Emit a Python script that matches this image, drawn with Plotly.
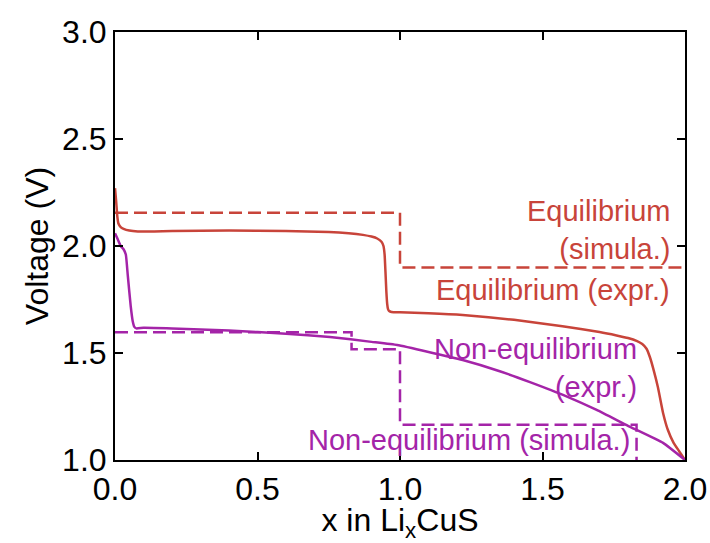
import plotly.graph_objects as go

RED = "#C8443A"
PURPLE = "#A424A8"

# Equilibrium (simulated) - step
eq_sim_x = [0.0, 1.0, 1.0, 2.0]
eq_sim_y = [2.155, 2.155, 1.90, 1.90]

# Equilibrium (experimental)
eq_exp_x = [0.0, 0.004, 0.008, 0.012, 0.02, 0.03, 0.05, 0.08, 0.2, 0.4, 0.6, 0.75, 0.82, 0.87, 0.9, 0.92, 0.935, 0.942, 0.946, 0.949, 0.952, 0.955, 0.958, 0.962, 0.97, 1.0, 1.1, 1.22, 1.4, 1.57, 1.7, 1.76, 1.8, 1.83, 1.85, 1.865, 1.877, 1.89, 1.905, 1.923, 1.94, 1.96, 1.98, 2.0]
eq_exp_y = [2.27, 2.21, 2.14, 2.105, 2.088, 2.08, 2.072, 2.068, 2.07, 2.072, 2.07, 2.066, 2.06, 2.052, 2.044, 2.035, 2.02, 2.0, 1.96, 1.88, 1.79, 1.73, 1.705, 1.696, 1.692, 1.69, 1.686, 1.678, 1.655, 1.625, 1.598, 1.582, 1.57, 1.557, 1.542, 1.52, 1.48, 1.42, 1.34, 1.22, 1.14, 1.08, 1.04, 1.0]

# Non-equilibrium (simulated) - step
neq_sim_x = [0.0, 0.83, 0.83, 1.0, 1.0, 1.83, 1.83]
neq_sim_y = [1.597, 1.597, 1.517, 1.517, 1.165, 1.165, 1.0]

# Non-equilibrium (experimental)
neq_exp_x = [0.0, 0.01, 0.02, 0.03, 0.038, 0.045, 0.055, 0.062, 0.068, 0.075, 0.1, 0.2, 0.4, 0.6, 0.754, 0.9, 0.99, 1.1, 1.22, 1.35, 1.456, 1.58, 1.69, 1.8, 1.923, 2.0]
neq_exp_y = [2.06, 2.03, 2.0, 1.985, 1.96, 1.86, 1.72, 1.65, 1.622, 1.615, 1.618, 1.615, 1.605, 1.59, 1.575, 1.552, 1.537, 1.505, 1.467, 1.415, 1.364, 1.3, 1.234, 1.16, 1.08, 1.0]

fig = go.Figure()
fig.add_trace(go.Scatter(x=eq_sim_x, y=eq_sim_y, mode="lines",
                         line=dict(color=RED, width=2.5, dash="13px,6px"), showlegend=False))
fig.add_trace(go.Scatter(x=eq_exp_x, y=eq_exp_y, mode="lines", line_shape="spline",
                         line=dict(color=RED, width=2.5, smoothing=0.4), showlegend=False))
fig.add_trace(go.Scatter(x=neq_sim_x, y=neq_sim_y, mode="lines",
                         line=dict(color=PURPLE, width=2.5, dash="13px,6px"), showlegend=False))
fig.add_trace(go.Scatter(x=neq_exp_x, y=neq_exp_y, mode="lines", line_shape="spline",
                         line=dict(color=PURPLE, width=2.5, smoothing=0.4), showlegend=False))

FONT = "Liberation Sans, Arial, sans-serif"
ann_font = dict(family=FONT, size=29)
annotations = [
    dict(x=1.955, y=2.075, text="Equilibrium<br>(simula.)", color=RED),
    dict(x=1.955, y=1.795, text="Equilibrium (expr.)", color=RED),
    dict(x=1.84, y=1.43, text="Non-equilibrium<br>(expr.)", color=PURPLE),
    dict(x=1.815, y=1.093, text="Non-equilibrium (simula.)", color=PURPLE),
]
for a in annotations:
    fig.add_annotation(x=a["x"], y=a["y"], text=a["text"], showarrow=False,
                       xanchor="right", yanchor="middle", align="right",
                       font=dict(ann_font, color=a["color"]))

axis_common = dict(showline=True, linecolor="black", linewidth=2, mirror="ticks",
                   ticks="inside", ticklen=8, tickwidth=1.5, tickcolor="black",
                   showgrid=False, zeroline=False, automargin=False,
                   tickfont=dict(family=FONT, size=32, color="black"),
                   title_font=dict(family=FONT, size=32, color="black"))

fig.update_xaxes(range=[0, 2], tickvals=[0, 0.5, 1.0, 1.5, 2.0],
                 ticktext=["0.0", "0.5", "1.0", "1.5", "2.0"],
                 title_text="x in Li<sub>x</sub>CuS", title_standoff=2, **axis_common)
fig.update_yaxes(range=[1, 3], tickvals=[1.0, 1.5, 2.0, 2.5, 3.0],
                 ticktext=["1.0", "1.5", "2.0", "2.5", "3.0"],
                 title_text="Voltage (V)", title_standoff=4, **axis_common)

fig.update_layout(width=710, height=543, margin=dict(l=115, r=25, t=32, b=83),
                  plot_bgcolor="white", paper_bgcolor="white")

fig.write_html("out.html")
